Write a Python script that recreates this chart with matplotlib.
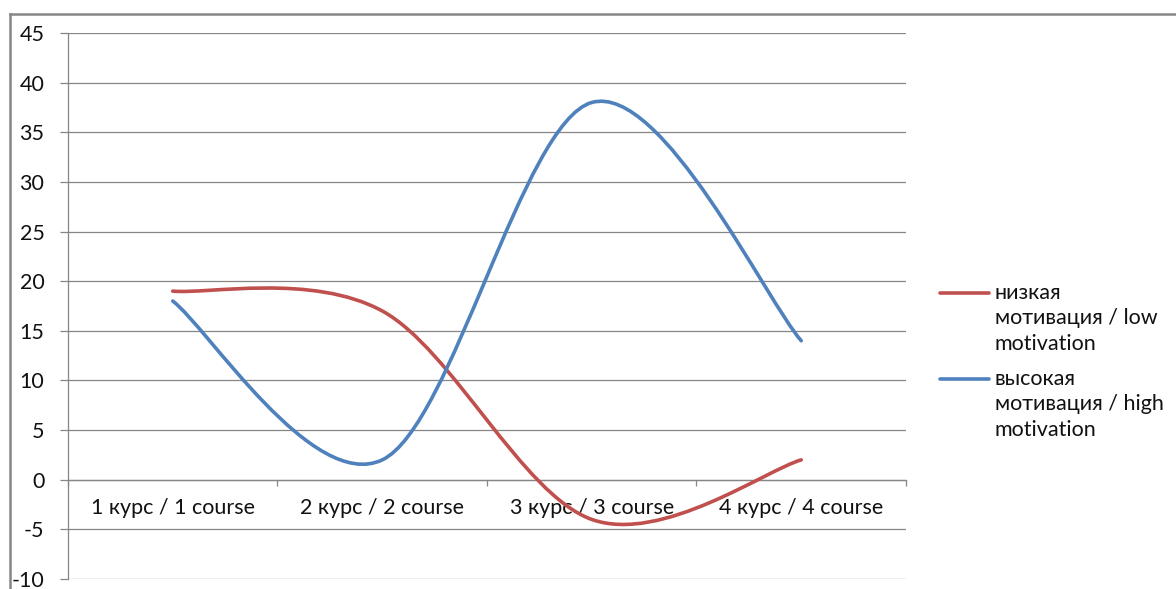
import matplotlib.pyplot as plt
from matplotlib.path import Path
from matplotlib.patches import PathPatch
from matplotlib.lines import Line2D

plt.rcParams['font.family'] = ['Lato', 'Open Sans', 'DejaVu Sans']

# данные
courses = ['1 курс / 1 course', '2 курс / 2 course', '3 курс / 3 course', '4 курс / 4 course']
low = [19, 17, -4, 2]
high = [18, 2, 38, 14]
names = ['низкая\nмотивация / low\nmotivation', 'высокая\nмотивация / high\nmotivation']
colors = ['#C0504D', '#4F81BD']
yticks = list(range(-10, 50, 5))

W, H = 1176, 589
fig = plt.figure(figsize=(W / 100, H / 100), dpi=100)
ax = fig.add_axes([68 / W, 1 - 579 / H, (906 - 68) / W, (579 - 33) / H])

gray = '#868686'
fs = 15.5


def smooth_path(xs, ys):
    # сглаженная линия как в Excel (кубические Безье)
    pts = list(zip(xs, ys))
    n = len(pts)
    verts = [pts[0]]
    codes = [Path.MOVETO]
    for i in range(n - 1):
        p0 = pts[i - 1] if i > 0 else pts[i]
        p1 = pts[i]
        p2 = pts[i + 1]
        p3 = pts[i + 2] if i + 2 < n else pts[i + 1]
        c1 = (p1[0] + (p2[0] - p0[0]) / 6, p1[1] + (p2[1] - p0[1]) / 6)
        c2 = (p2[0] - (p3[0] - p1[0]) / 6, p2[1] - (p3[1] - p1[1]) / 6)
        verts += [c1, c2, p2]
        codes += [Path.CURVE4] * 3
    return Path(verts, codes)


xs = list(range(1, len(courses) + 1))
for series, c in zip([low, high], colors):
    ax.add_patch(PathPatch(smooth_path(xs, series), fill=False, edgecolor=c,
                           lw=2.6, capstyle='round', joinstyle='round', zorder=3))

ax.set_xlim(0.5, len(courses) + 0.5)
ax.set_ylim(-10, 45)
ax.set_yticks(yticks)
ax.set_yticklabels([str(v) for v in yticks], fontsize=fs, color='#111111')
ax.yaxis.grid(True, color=gray, lw=0.9)
ax.set_axisbelow(True)
ax.tick_params(axis='y', length=6, width=0.9, color=gray, pad=11)

for s in ['top', 'right']:
    ax.spines[s].set_visible(False)
ax.spines['left'].set_color(gray)
ax.spines['left'].set_linewidth(0.9)
ax.spines['bottom'].set_position(('data', 0))
ax.spines['bottom'].set_color(gray)
ax.spines['bottom'].set_linewidth(0.9)

ax.set_xticks([i + 0.5 for i in range(len(courses) + 1)])
ax.set_xticklabels([])
ax.set_xticks(xs, minor=True)
ax.set_xticklabels(courses, minor=True, fontsize=fs, color='#111111')
ax.tick_params(axis='x', which='major', direction='out', length=4, width=0.9, color=gray)
ax.tick_params(axis='x', which='minor', length=0, pad=13)

# легенда
leg_y = [293, 379]
for name, c, y in zip(names, colors, leg_y):
    fig.add_artist(Line2D([940 / W, 989 / W], [1 - y / H, 1 - y / H], color=c, lw=2.6,
                          solid_capstyle='round'))
    fig.text(995 / W, 1 - (y - 10) / H, name, fontsize=fs, va='top', ha='left',
             color='#111111', linespacing=1.34)

# рамка диаграммы
fig.add_artist(Line2D([10 / W, 10 / W], [0, 1 - 14 / H], color='#878787', lw=1.8))
fig.add_artist(Line2D([10 / W, 1], [1 - 14 / H, 1 - 14 / H], color='#878787', lw=1.8))

fig.savefig('out.png', dpi=100)
